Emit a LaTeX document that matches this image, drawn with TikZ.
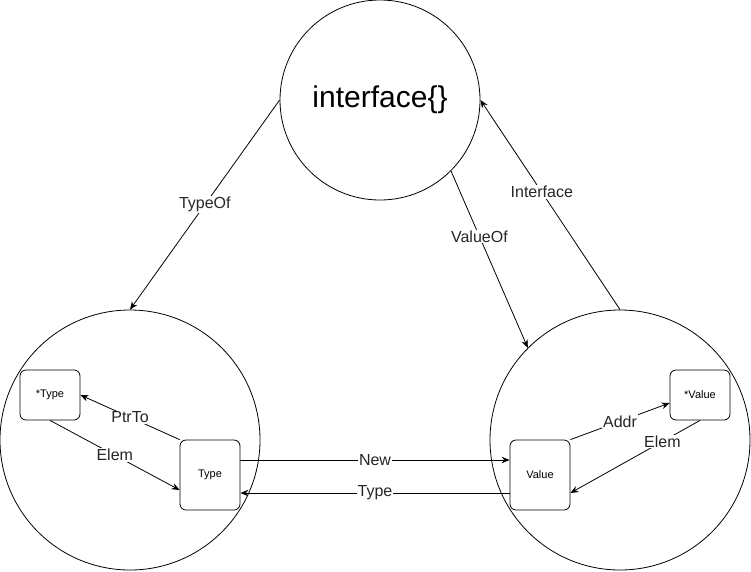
\documentclass[tikz,border=0pt]{standalone}
\usepackage{fontspec}
\setmainfont{Liberation Sans}
\usetikzlibrary{arrows.meta}
\tikzstyle{ball} = [circle, draw, line width=0.8pt, inner sep=0pt]
\tikzstyle{card} = [rectangle, draw, line width=0.8pt, rounded corners=6pt, minimum width=60pt, inner sep=0pt, font=\fontsize{11}{13}\selectfont]
\tikzstyle{tag} = [fill=white, inner sep=1pt, text=black!85, font=\fontsize{16}{19}\selectfont]
\tikzstyle{link} = [line width=0.8pt, -{Stealth[length=8pt,width=6.5pt]}]

\begin{document}
\begin{tikzpicture}[x=1pt, y=-1pt]
	\useasboundingbox (0,0) rectangle (751,571);
	% the three circles
	\node[ball, minimum size=200pt, font=\fontsize{30}{36}\selectfont] (iface) at (380,100) {interface\{\}};
	\node[ball, minimum size=260pt] (tcirc) at (130,440) {};
	\node[ball, minimum size=260pt] (vcirc) at (620,440) {};
	% boxes
	\node[card, minimum height=50pt] (ptype) at (50,395) {*Type};
	\node[card, minimum height=70pt] (type) at (210,475) {Type};
	\node[card, minimum height=50pt] (pval) at (700,395) {*Value};
	\node[card, minimum height=70pt] (val) at (540,475) {Value};

	\draw[link] (iface.west) -- node[tag] {TypeOf} (tcirc.north);
	\draw[link] (iface.south east) -- node[tag, pos=0.37] {ValueOf} (vcirc.north west);
	\draw[link] (vcirc.north) -- node[tag, pos=0.56] {Interface} (iface.east);

	\draw[link] (type.north west) -- node[tag] {PtrTo} (ptype.east);
	\draw[link] (ptype.south) -- node[tag] {Elem} ([yshift=-15pt]type.west);
	\draw[link] ([yshift=15pt]type.east) -- node[tag] {New} ([yshift=15pt]val.west);
	\draw[link] ([yshift=-18pt]val.west) -- node[tag] {Type} ([yshift=-18pt]type.east);
	\draw[link] (val.north east) -- node[tag] {Addr} ([yshift=-8pt]pval.west);
	\draw[link] (pval.south) -- node[tag, pos=0.29] {Elem} ([yshift=-18pt]val.east);
\end{tikzpicture}
\end{document}
